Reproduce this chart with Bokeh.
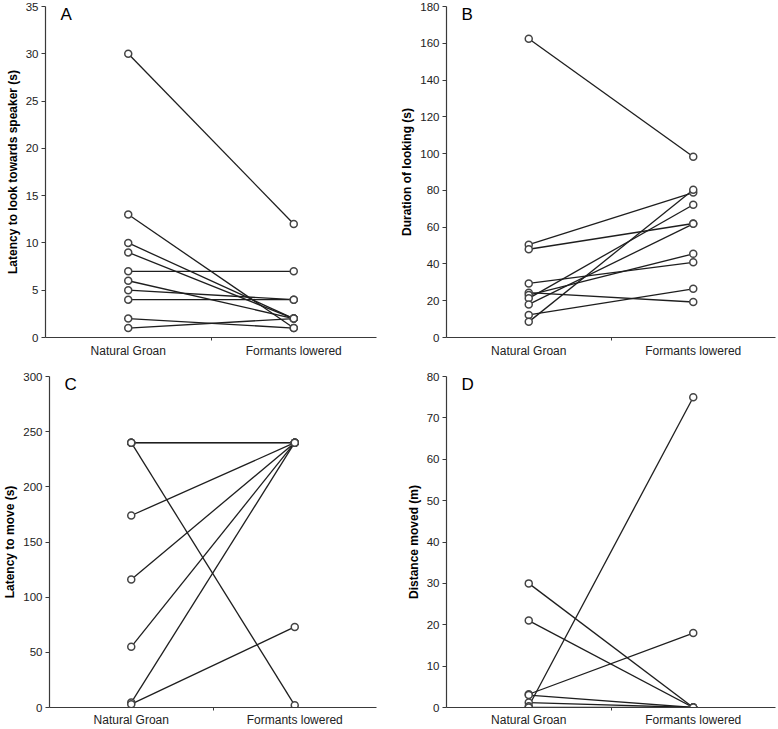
from bokeh.plotting import figure
from bokeh.layouts import column, row
from bokeh.models import (ColumnDataSource, FactorRange, Range1d,
                          CategoricalAxis, SingleIntervalTicker, Label)
from bokeh.embed import file_html
from bokeh.resources import INLINE

# ---------------- data ----------------
conditions = ["Natural Groan", "Formants lowered"]

a_natural = [30, 13, 10, 9, 7, 6, 5, 4, 2, 1]
a_formants = [12, 1, 2, 2, 7, 2, 4, 4, 1, 2]

b_natural = [162.5, 50.5, 48, 29.4, 24.4, 23.1, 21.3, 18, 12.3, 8.5]
b_formants = [98.3, 78.8, 62, 40.9, 19.3, 45.5, 72.2, 61.8, 26.5, 80.3]

c_natural = [240, 240, 240, 240, 174, 116, 55, 4.5, 3]
c_formants = [240, 240, 240, 2, 240, 240, 240, 240, 73]

d_natural = [30, 21, 3.2, 3, 1.2, 0.3, 0]
d_formants = [0, 0, 18, 0, 0, 75, 0]

panels = [
    ("A", "Latency to look towards speaker (s)", a_natural, a_formants, 35, 5),
    ("B", "Duration of looking (s)", b_natural, b_formants, 180, 20),
    ("C", "Latency to move (s)", c_natural, c_formants, 300, 50),
    ("D", "Distance moved (m)", d_natural, d_formants, 80, 10),
]

FONT = "Liberation Sans"
AXIS_COLOR = "#3a3a3a"
LINE_COLOR = "#1e1e1e"
MARK_COLOR = "#444444"


def make_panel(letter, ylabel, nat, form, ymax, step, width, height,
               left, right, top, bottom, xlabel_standoff):
    p = figure(width=width, height=height, output_backend="svg",
               toolbar_location=None,
               x_range=FactorRange(*conditions, range_padding=0),
               y_range=Range1d(0, ymax),
               x_axis_location=None,
               min_border_left=left, min_border_right=right,
               min_border_top=top, min_border_bottom=bottom)
    # helper range whose factor centres fall on the category boundaries
    p.extra_x_ranges = {"bounds": FactorRange("b0", "b1", "b2",
                                              range_padding=-0.5,
                                              range_padding_units="absolute")}
    p.outline_line_color = None
    p.xgrid.visible = False
    p.ygrid.visible = False
    p.background_fill_color = "white"
    p.border_fill_color = "white"

    tick_axis = CategoricalAxis(x_range_name="bounds",
                                major_label_text_font_size="0px",
                                major_label_text_color=None,
                                major_label_standoff=0,
                                major_tick_in=0, major_tick_out=3,
                                axis_line_color=AXIS_COLOR, axis_line_width=1.2,
                                major_tick_line_color=AXIS_COLOR)
    p.add_layout(tick_axis, "below")
    cat_axis = CategoricalAxis(axis_line_color=None, major_tick_line_color=None,
                               major_tick_out=0, major_tick_in=0,
                               major_label_standoff=xlabel_standoff,
                               major_label_text_font=FONT,
                               major_label_text_font_size="12px",
                               major_label_text_color="#222222")
    p.add_layout(cat_axis, "below")

    ya = p.yaxis[0]
    ya.ticker = SingleIntervalTicker(interval=step)
    ya.minor_tick_line_color = None
    ya.major_tick_in = 0
    ya.major_tick_out = 4
    ya.axis_line_color = AXIS_COLOR
    ya.axis_line_width = 1.2
    ya.major_tick_line_color = AXIS_COLOR
    ya.major_label_text_font = FONT
    ya.major_label_text_font_size = "11.5px"
    ya.major_label_text_color = "#222222"
    ya.major_label_standoff = 3
    ya.axis_label = ylabel
    ya.axis_label_text_font = FONT
    ya.axis_label_text_font_size = "12px"
    ya.axis_label_text_font_style = "bold"
    ya.axis_label_text_color = "black"
    ya.axis_label_standoff = 3

    src = ColumnDataSource(dict(
        x0=[conditions[0]] * len(nat), y0=nat,
        x1=[conditions[1]] * len(form), y1=form,
    ))
    p.segment(x0="x0", y0="y0", x1="x1", y1="y1", source=src,
              line_color=LINE_COLOR, line_width=1.3)
    p.scatter(x="x0", y="y0", source=src, marker="circle", size=7,
              fill_color="white", line_color=MARK_COLOR, line_width=1.5)
    p.scatter(x="x1", y="y1", source=src, marker="circle", size=7,
              fill_color="white", line_color=MARK_COLOR, line_width=1.5)

    p.add_layout(Label(x=0, y=ymax, x_offset=15, y_offset=2, text=letter,
                       text_font=FONT, text_font_size="17px",
                       text_baseline="top", text_color="black"))
    return p


pa = make_panel(*panels[0], width=388, height=360, left=45, right=12, top=6, bottom=22, xlabel_standoff=3)
pb = make_panel(*panels[1], width=389, height=360, left=58, right=2, top=6, bottom=22, xlabel_standoff=3)
pc = make_panel(*panels[2], width=388, height=369, left=45, right=12, top=16, bottom=21, xlabel_standoff=2)
pd = make_panel(*panels[3], width=389, height=369, left=58, right=2, top=16, bottom=21, xlabel_standoff=2)

layout = column(row(pa, pb), row(pc, pd))

open("out.html", "w").write(file_html(layout, INLINE))
